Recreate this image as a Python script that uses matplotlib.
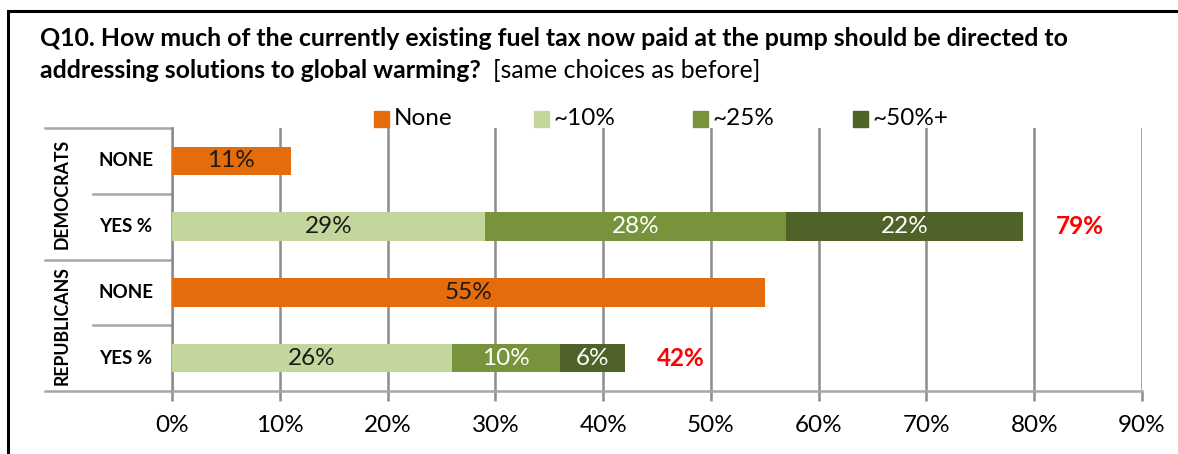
import matplotlib
matplotlib.use("Agg")
import matplotlib.pyplot as plt
from matplotlib.patches import Rectangle
from matplotlib.lines import Line2D
import matplotlib.transforms as mtransforms

plt.rcParams['font.family'] = ['Lato', 'DejaVu Sans']

# ---- data ----
groups = ['DEMOCRATS', 'REPUBLICANS']
rows = ['NONE', 'YES %', 'NONE', 'YES %']
series_names = ['None', '~10%', '~25%', '~50%+']
none_vals = [11, 0, 55, 0]
p10_vals = [0, 29, 0, 26]
p25_vals = [0, 28, 0, 10]
p50_vals = [0, 22, 0, 6]
totals = [None, 79, None, 42]
xticks = [0, 10, 20, 30, 40, 50, 60, 70, 80, 90]

colors = ['#E46C0A', '#C3D69B', '#77933C', '#4F6228']
text_colors = ['#1a1a1a', '#1a1a1a', 'white', 'white']
grid_c = '#8c8c8c'

W, H = 1178, 454
fig = plt.figure(figsize=(W / 100, H / 100), dpi=100)

def fx(px):
    return px / W

def fy(py):
    return 1 - py / H

# outer frame
fig.patches.append(Rectangle((fx(8), fy(470)), fx(1200), fy(11) - fy(470),
                             transform=fig.transFigure, fill=False,
                             edgecolor='black', linewidth=2.2))

ax = fig.add_axes([fx(172), fy(391), fx(1142) - fx(172), fy(128) - fy(391)])
ax.set_xlim(0, 90)
ax.set_ylim(3.5, -0.5)

ypos = list(range(len(rows)))
bar_h = 0.43
series = [none_vals, p10_vals, p25_vals, p50_vals]
left = [0] * len(rows)
for s, vals in enumerate(series):
    ax.barh(ypos, vals, left=left, height=bar_h, color=colors[s],
            label=series_names[s], zorder=3)
    for i, v in enumerate(vals):
        if v > 0:
            ax.text(left[i] + v / 2, ypos[i], f'{v}%', ha='center', va='center',
                    fontsize=17.5, color=text_colors[s], zorder=4)
    left = [l + v for l, v in zip(left, vals)]

for i, t in enumerate(totals):
    if t is not None:
        ax.text(t + 3, ypos[i], f'{t}%', ha='left', va='center', fontsize=17.5,
                fontweight='bold', color='#FF0000')

# grid
for x in xticks:
    ax.axvline(x, color=grid_c, linewidth=1.8, zorder=1)

for sp in ['top', 'right']:
    ax.spines[sp].set_visible(False)
ax.spines['left'].set_color(grid_c)
ax.spines['left'].set_linewidth(1.8)
ax.spines['bottom'].set_color('#a6a6a6')
ax.spines['bottom'].set_linewidth(1.8)

ax.set_xticks(xticks)
ax.set_xticklabels([f'{x}%' for x in xticks], fontsize=17.5)
ax.tick_params(axis='x', length=7, width=1.8, color=grid_c, pad=10)
ax.set_yticks([])

# left category table
trans = mtransforms.blended_transform_factory(ax.transAxes, ax.transData)
x_outer = (45 - 172) / 970
x_inner = (93 - 172) / 970
for yl, xs in [(-0.5, x_outer), (0.5, x_inner), (1.5, x_outer), (2.5, x_inner), (3.5, x_outer)]:
    ax.add_line(Line2D([xs, 0], [yl, yl], transform=trans, color='#a6a6a6',
                       linewidth=1.8, clip_on=False))

x_row = (126 - 172) / 970
for i, r in enumerate(rows):
    ax.text(x_row, ypos[i], r, transform=trans, ha='center', va='center',
            fontsize=13.5, fontweight='bold')
x_grp = (62 - 172) / 970
for g, name in enumerate(groups):
    ax.text(x_grp, 0.5 + 2 * g, name, transform=trans, ha='center', va='center',
            rotation=90, fontsize=12.8, fontweight='bold')

# legend (equal-width entries)
leg_x0, leg_step, leg_y, sq = 374, 159.5, 119, 15
for i, name in enumerate(series_names):
    x = leg_x0 + i * leg_step
    fig.patches.append(Rectangle((fx(x), fy(leg_y + sq / 2)), fx(sq), fy(0) - fy(sq),
                                 transform=fig.transFigure, color=colors[i]))
    fig.text(fx(x + sq + 5), fy(leg_y), name, ha='left', va='center', fontsize=17.5)

# title
t1 = fig.text(fx(40), fy(38), 'Q10. How much of the currently existing fuel tax now paid at the pump should be directed to',
              ha='left', va='center', fontsize=17.9, fontweight='bold')
t2 = fig.text(fx(40), fy(70), 'addressing solutions to global warming?',
              ha='left', va='center', fontsize=17.9, fontweight='bold')
fig.canvas.draw()
bb = t2.get_window_extent()
fig.text(bb.x1 / W + fx(12), fy(70), '[same choices as before]', ha='left', va='center',
         fontsize=17.9)

fig.savefig('out.png', dpi=100)
